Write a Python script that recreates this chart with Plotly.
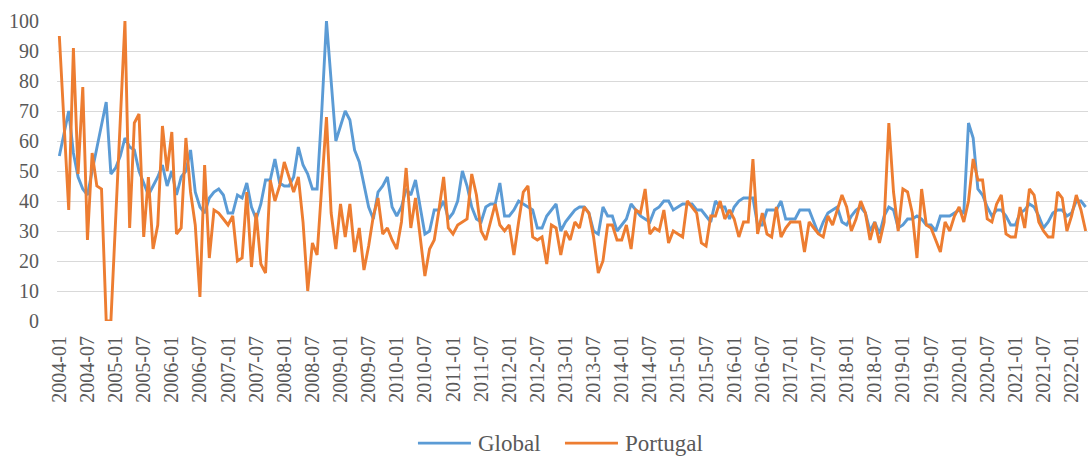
import plotly.graph_objects as go

start_year, start_month = 2004, 1
n_points = 220
months = []
y, m = start_year, start_month
for _ in range(n_points):
    months.append(f"{y}-{m:02d}")
    m += 1
    if m > 12:
        m = 1
        y += 1

global_vals = [
    55, 62, 70, 56, 48, 44, 42, 50, 58, 66, 73, 49, 51, 55, 61, 58, 57, 50, 46, 42,
    45, 48, 52, 45, 50, 42, 48, 50, 57, 43, 38, 36, 41, 43, 44, 42, 36, 36, 42, 41,
    46, 38, 34, 39, 47, 47, 54, 46, 45, 45, 48, 58, 52, 49, 44, 44, 70, 100, 80, 60,
    65, 70, 67, 57, 53, 45, 38, 34, 43, 45, 48, 38, 35, 38, 44, 42, 47, 38, 29, 30,
    37, 37, 40, 34, 36, 40, 50, 45, 38, 34, 33, 38, 39, 39, 46, 35, 35, 37, 40, 39,
    38, 37, 31, 31, 35, 37, 39, 30, 33, 35, 37, 38, 38, 36, 30, 29, 38, 35, 35, 30,
    32, 34, 39, 37, 35, 34, 33, 37, 38, 40, 40, 37, 38, 39, 39, 39, 37, 37, 35, 33,
    40, 38, 38, 34, 38, 40, 41, 41, 41, 32, 32, 37, 37, 37, 40, 34, 34, 34, 37, 37,
    37, 33, 29, 33, 36, 37, 38, 33, 32, 35, 37, 38, 36, 30, 33, 29, 35, 38, 37, 31,
    32, 34, 34, 35, 34, 32, 32, 30, 35, 35, 35, 36, 37, 36, 66, 61, 44, 42, 38, 35,
    37, 37, 35, 32, 32, 36, 37, 39, 38, 35, 31, 33, 36, 37, 37, 35, 36, 40, 40, 38,
]

portugal_vals = [
    95, 67, 37, 91, 49, 78, 27, 56, 45, 44, 0, 0, 33, 67, 100, 31, 66, 69, 28, 48,
    24, 32, 65, 50, 63, 29, 31, 61, 43, 32, 8, 52, 21, 37, 36, 34, 32, 35, 20, 21,
    43, 18, 36, 19, 16, 47, 40, 45, 53, 48, 43, 48, 33, 10, 26, 22, 45, 68, 36, 24,
    39, 28, 39, 23, 31, 17, 25, 35, 41, 29, 31, 27, 24, 33, 51, 31, 41, 27, 15, 24,
    27, 37, 48, 31, 29, 32, 33, 34, 49, 42, 30, 27, 33, 39, 32, 30, 32, 22, 33, 43,
    45, 28, 27, 28, 19, 32, 31, 22, 30, 27, 33, 31, 38, 36, 28, 16, 20, 32, 32, 27,
    27, 32, 24, 37, 36, 44, 29, 31, 30, 37, 26, 30, 29, 28, 40, 38, 36, 26, 25, 35,
    35, 40, 34, 37, 34, 28, 33, 33, 54, 29, 36, 29, 28, 38, 28, 31, 33, 33, 33, 23,
    33, 31, 29, 28, 35, 32, 37, 42, 38, 30, 34, 40, 36, 27, 33, 26, 33, 66, 43, 30,
    44, 43, 36, 21, 44, 32, 31, 27, 23, 33, 30, 35, 38, 33, 40, 54, 47, 47, 34, 33,
    39, 42, 29, 28, 28, 38, 31, 44, 42, 33, 30, 28, 28, 43, 41, 30, 35, 42, 37, 30,
]

series_names = ["Global", "Portugal"]
series_colors = ["#5B9BD5", "#ED7D31"]
tick_labels = months[::6]
y_ticks = list(range(0, 101, 10))

FONT = '"Times New Roman", "Liberation Serif", "DejaVu Serif", serif'
GREY = "#595959"

fig = go.Figure()
for name, vals, col in zip(series_names, [global_vals, portugal_vals], series_colors):
    fig.add_trace(go.Scatter(x=months, y=vals, mode="lines", name=name,
                             line=dict(color=col, width=2.9), showlegend=False))

# Legend drawn Excel-style (long line sample + label), centred below the axis
legend_y = -0.407
legend_items = [(0.3501, 0.4015, 0.4064), (0.4927, 0.5441, 0.5490)]
for (x0, x1, xt), name, col in zip(legend_items, series_names, series_colors):
    fig.add_shape(type="line", xref="paper", yref="paper", x0=x0, x1=x1,
                  y0=legend_y, y1=legend_y, line=dict(color=col, width=2.9))
    fig.add_annotation(xref="paper", yref="paper", x=xt, y=legend_y, text=name,
                       showarrow=False, xanchor="left", yanchor="middle",
                       font=dict(family=FONT, size=23, color=GREY))

fig.update_layout(
    width=1088, height=457,
    margin=dict(l=57, r=0, t=21, b=136, autoexpand=False),
    paper_bgcolor="white", plot_bgcolor="white",
    font=dict(family=FONT, size=20, color=GREY),
    showlegend=False,
    xaxis=dict(type="category", categoryorder="array", categoryarray=months,
               range=[-0.5, n_points - 0.5], automargin=False,
               tickmode="array", tickvals=tick_labels, ticktext=tick_labels,
               tickangle=-90, showgrid=False, zeroline=False,
               showline=False, ticks="", ticklabelstandoff=10,
               tickfont=dict(family=FONT, size=20, color=GREY)),
    yaxis=dict(range=[0, 100], tickmode="array", tickvals=y_ticks, automargin=False,
               showgrid=True, gridcolor="#D9D9D9", gridwidth=1.3,
               zeroline=False, showline=False, ticks="",
               ticklabelstandoff=17,
               tickfont=dict(family=FONT, size=20, color=GREY)),
)

fig.write_html(
    "out.html",
    config={"displayModeBar": False},
    post_script="document.body.style.margin='0';document.body.style.padding='0';document.body.style.overflow='hidden';",
)
